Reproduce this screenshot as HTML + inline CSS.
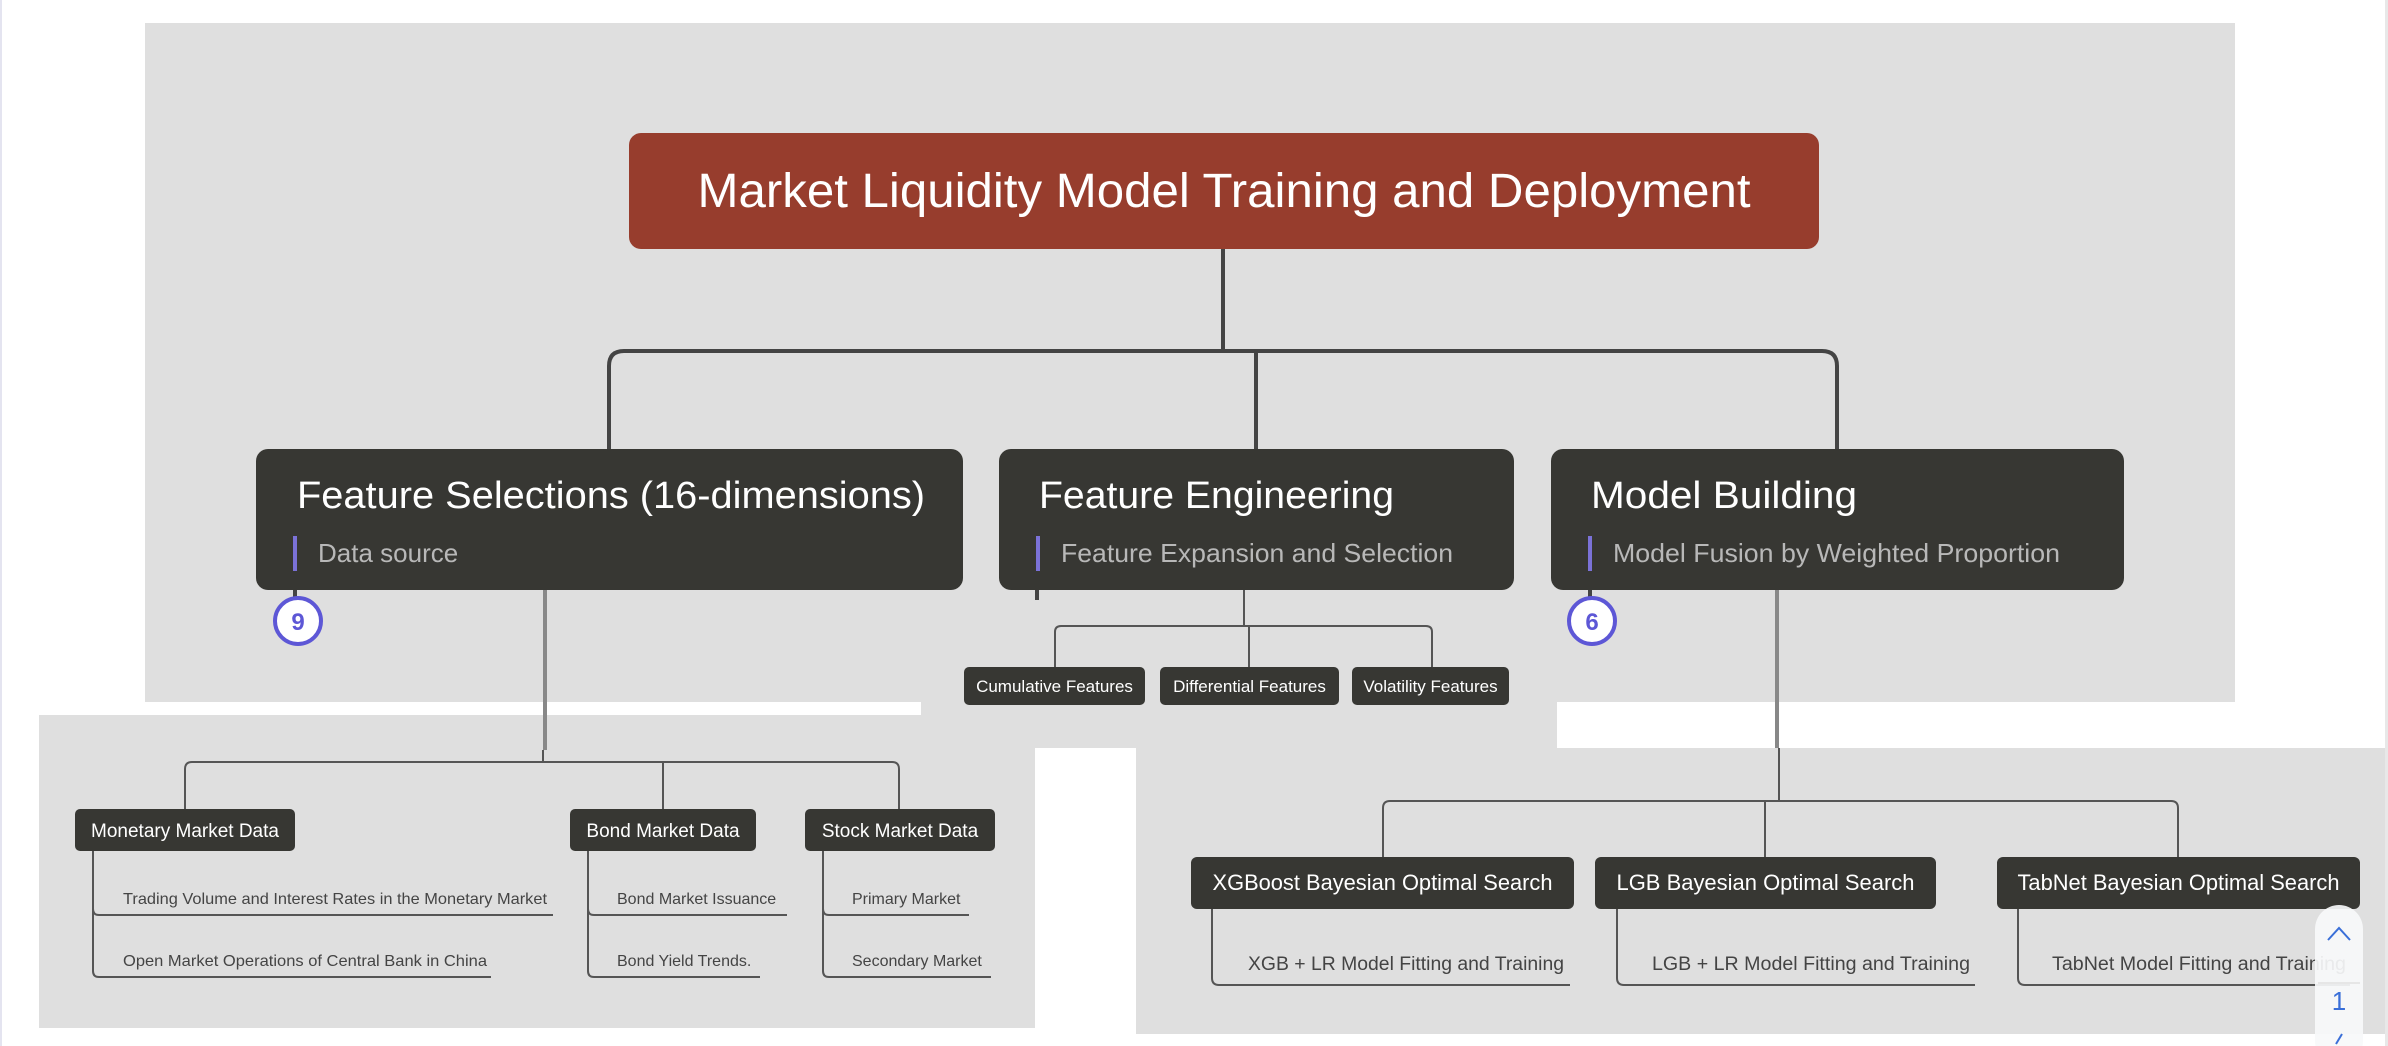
<!DOCTYPE html>
<html><head><meta charset="utf-8"><style>
html,body{margin:0;padding:0;background:#fff;width:2388px;height:1046px;overflow:hidden}
svg{display:block;font-family:"Liberation Sans",Arial,sans-serif}
</style></head><body>
<svg width="2388" height="1046" viewBox="0 0 2388 1046" xmlns="http://www.w3.org/2000/svg">
<rect x="0" y="0" width="2" height="1046" fill="#e4e4f0"/>
<!-- backgrounds -->
<rect x="145" y="23" width="2090" height="679" fill="#dfdfdf"/>
<rect x="921" y="700" width="636" height="48" fill="#dfdfdf"/>
<rect x="39" y="715" width="996" height="313" fill="#dfdfdf"/>
<rect x="1136" y="748" width="1252" height="286" fill="#dfdfdf"/>
<rect x="2385" y="0" width="3" height="1046" fill="#e8e8e8"/>

<!-- root -->
<rect x="629" y="133" width="1190" height="116" rx="12" fill="#973d2d"/>
<text x="1224" y="207" font-size="48" fill="#fff" text-anchor="middle" textLength="1053" lengthAdjust="spacingAndGlyphs">Market Liquidity Model Training and Deployment</text>

<!-- top connectors -->
<g fill="none" stroke="#444" stroke-width="4">
<path d="M1223 249 V350"/>
<path d="M609 449 V366 Q609 351 624 351 H1822 Q1837 351 1837 366 V449"/>
<path d="M1256 351 V449"/>
</g>

<!-- level-1 boxes -->
<rect x="256" y="449" width="707" height="141" rx="12" fill="#373733"/>
<text x="297" y="508" font-size="38" fill="#fff" textLength="628" lengthAdjust="spacingAndGlyphs">Feature Selections (16-dimensions)</text>
<rect x="293" y="536" width="4" height="35" fill="#7b72d8"/>
<text x="318" y="562" font-size="26" fill="#b8b8b8">Data source</text>

<rect x="999" y="449" width="515" height="141" rx="12" fill="#373733"/>
<text x="1039" y="508" font-size="38" fill="#fff" textLength="355" lengthAdjust="spacingAndGlyphs">Feature Engineering</text>
<rect x="1036" y="536" width="4" height="35" fill="#7b72d8"/>
<text x="1061" y="562" font-size="26" fill="#b8b8b8" textLength="392" lengthAdjust="spacingAndGlyphs">Feature Expansion and Selection</text>

<rect x="1551" y="449" width="573" height="141" rx="12" fill="#373733"/>
<text x="1591" y="508" font-size="38" fill="#fff" textLength="266" lengthAdjust="spacingAndGlyphs">Model Building</text>
<rect x="1588" y="536" width="4" height="35" fill="#7b72d8"/>
<text x="1613" y="562" font-size="26" fill="#b8b8b8" textLength="447" lengthAdjust="spacingAndGlyphs">Model Fusion by Weighted Proportion</text>

<!-- badges -->
<path d="M295 590 V598 M1590 590 V598 M1037 590 V600" stroke="#444" stroke-width="4"/>
<circle cx="298" cy="621" r="23" fill="#fff" stroke="#5d57d6" stroke-width="4"/>
<text x="298" y="630" font-size="24" font-weight="bold" fill="#5d57d6" text-anchor="middle">9</text>
<circle cx="1592" cy="621" r="23" fill="#fff" stroke="#5d57d6" stroke-width="4"/>
<text x="1592" y="630" font-size="24" font-weight="bold" fill="#5d57d6" text-anchor="middle">6</text>

<!-- feature engineering children -->
<g fill="none" stroke="#555" stroke-width="2">
<path d="M1244 590 V626"/>
<path d="M1055 667 V632 Q1055 626 1061 626 H1426 Q1432 626 1432 632 V667"/>
<path d="M1249 626 V667"/>
</g>
<rect x="964" y="667" width="181" height="38" rx="5" fill="#373733"/>
<text x="1054.5" y="692" font-size="17" fill="#fff" text-anchor="middle">Cumulative Features</text>
<rect x="1160" y="667" width="179" height="38" rx="5" fill="#373733"/>
<text x="1249.5" y="692" font-size="17" fill="#fff" text-anchor="middle">Differential Features</text>
<rect x="1352" y="667" width="157" height="38" rx="5" fill="#373733"/>
<text x="1430.5" y="692" font-size="17" fill="#fff" text-anchor="middle">Volatility Features</text>

<!-- feature selections children -->
<g fill="none" stroke="#555" stroke-width="2">
<path d="M545 590 V750" stroke="#888" stroke-width="4"/>
<path d="M543 750 V762"/>
<path d="M185 809 V769 Q185 762 192 762 H892 Q899 762 899 769 V809"/>
<path d="M663 762 V809"/>
</g>
<rect x="75" y="809" width="220" height="42" rx="5" fill="#373733"/>
<text x="185" y="837" font-size="19" fill="#fff" text-anchor="middle">Monetary Market Data</text>
<rect x="570" y="809" width="186" height="42" rx="5" fill="#373733"/>
<text x="663" y="837" font-size="19" fill="#fff" text-anchor="middle">Bond Market Data</text>
<rect x="805" y="809" width="190" height="42" rx="5" fill="#373733"/>
<text x="900" y="837" font-size="19" fill="#fff" text-anchor="middle">Stock Market Data</text>

<g fill="none" stroke="#555" stroke-width="2">
<path d="M93 851 V909 Q93 915 99 915 H553"/>
<path d="M93 905 V971 Q93 977 99 977 H491"/>
<path d="M588 851 V909 Q588 915 594 915 H787"/>
<path d="M588 905 V971 Q588 977 594 977 H760"/>
<path d="M823 851 V909 Q823 915 829 915 H969"/>
<path d="M823 905 V971 Q823 977 829 977 H991"/>
</g>
<g font-size="16" fill="#444">
<text x="123" y="904" textLength="424" lengthAdjust="spacingAndGlyphs">Trading Volume and Interest Rates in the Monetary Market</text>
<text x="123" y="966" textLength="364" lengthAdjust="spacingAndGlyphs">Open Market Operations of Central Bank in China</text>
<text x="617" y="904">Bond Market Issuance</text>
<text x="617" y="966">Bond Yield Trends.</text>
<text x="852" y="904">Primary Market</text>
<text x="852" y="966">Secondary Market</text>
</g>

<!-- model building children -->
<g fill="none" stroke="#555" stroke-width="2">
<path d="M1777 590 V748" stroke="#888" stroke-width="4"/>
<path d="M1779 748 V801"/>
<path d="M1383 857 V808 Q1383 801 1390 801 H2171 Q2178 801 2178 808 V857"/>
<path d="M1765 801 V857"/>
</g>
<rect x="1191" y="857" width="383" height="52" rx="6" fill="#373733"/>
<text x="1382.5" y="890" font-size="22" fill="#fff" text-anchor="middle" textLength="340" lengthAdjust="spacingAndGlyphs">XGBoost Bayesian Optimal Search</text>
<rect x="1595" y="857" width="341" height="52" rx="6" fill="#373733"/>
<text x="1765.5" y="890" font-size="22" fill="#fff" text-anchor="middle" textLength="298" lengthAdjust="spacingAndGlyphs">LGB Bayesian Optimal Search</text>
<rect x="1997" y="857" width="363" height="52" rx="6" fill="#373733"/>
<text x="2178.5" y="890" font-size="22" fill="#fff" text-anchor="middle" textLength="322" lengthAdjust="spacingAndGlyphs">TabNet Bayesian Optimal Search</text>

<g fill="none" stroke="#555" stroke-width="2">
<path d="M1212 909 V978 Q1212 985 1219 985 H1570"/>
<path d="M1617 909 V978 Q1617 985 1624 985 H1975"/>
<path d="M2018 909 V978 Q2018 985 2025 985 H2350"/>
</g>
<g font-size="19" fill="#444">
<text x="1248" y="970" textLength="316" lengthAdjust="spacingAndGlyphs">XGB + LR Model Fitting and Training</text>
<text x="1652" y="970" textLength="318" lengthAdjust="spacingAndGlyphs">LGB + LR Model Fitting and Training</text>
<text x="2052" y="970" textLength="294" lengthAdjust="spacingAndGlyphs">TabNet Model Fitting and Training</text>
</g>

<!-- scroll widget -->
<rect x="2315" y="905" width="48" height="160" rx="24" fill="#f7f8fa" fill-opacity="0.92"/>
<path d="M2328 940 L2339 928 L2350 940" fill="none" stroke="#3a6fd8" stroke-width="2"/>
<line x1="2318" y1="983" x2="2360" y2="983" stroke="#e6e6e6" stroke-width="2"/>
<text x="2339" y="1010" font-size="26" fill="#3a6fd8" text-anchor="middle">1</text>
<path d="M2336 1044 L2342 1034" stroke="#3a6fd8" stroke-width="2"/>
</svg>
</body></html>
